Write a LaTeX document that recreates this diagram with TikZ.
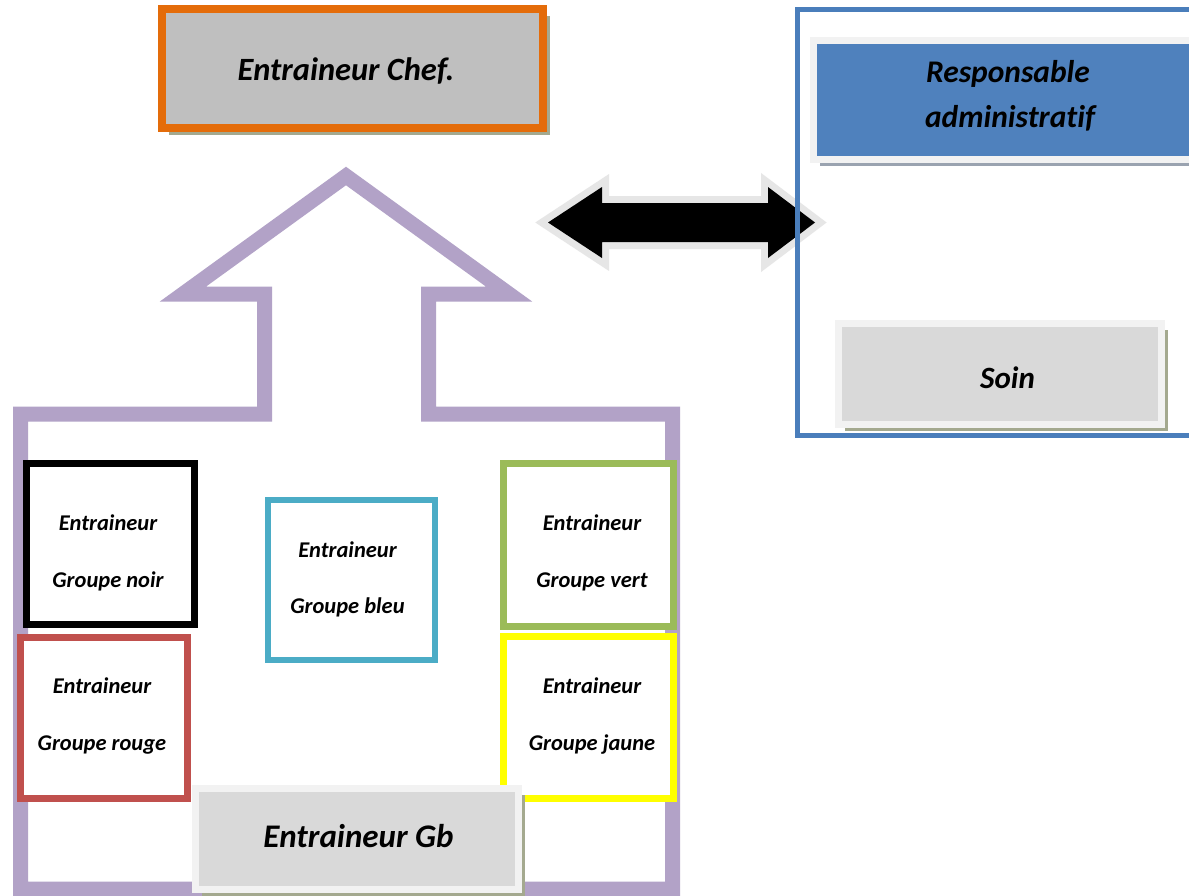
\documentclass[tikz,border=0pt]{standalone}
\usepackage{fontspec}
\setmainfont{Carlito}[Ligatures={NoCommon,NoContextual}]
\usetikzlibrary{shadows}
\definecolor{purp}{HTML}{B2A2C7}
\definecolor{orng}{HTML}{E46C0A}
\definecolor{chefgray}{HTML}{BFBFBF}
\definecolor{lgray}{HTML}{D9D9D9}
\definecolor{rim}{HTML}{F2F2F2}
\definecolor{arrrim}{HTML}{E6E6E6}
\definecolor{admblue}{HTML}{4F81BD}
\definecolor{frameblue}{HTML}{4A7EBB}
\definecolor{gbleu}{HTML}{4BACC6}
\definecolor{gvert}{HTML}{9BBB59}
\definecolor{grouge}{HTML}{C0504D}
\definecolor{gjaune}{HTML}{FFFF00}
\definecolor{shad}{HTML}{A4A98F}
\definecolor{shadb}{HTML}{9AA3B0}
\begin{document}
\begin{tikzpicture}[x=1pt,y=-1pt,
  grpbox/.style={rectangle, draw=#1, fill=white, line width=7pt, inner sep=0pt},
  grptxt/.style={anchor=base, inner sep=0pt, font=\bfseries\itshape\fontsize{22.5}{26}\selectfont},
  bigtxt/.style={anchor=base, inner sep=0pt, font=\bfseries\itshape\fontsize{#1}{#1}\selectfont},
  rimbox/.style={rectangle, draw=rim, line width=7pt, inner sep=0pt,
    drop shadow={shadow xshift=6.5pt, shadow yshift=-6.5pt, fill=#1, opacity=1}},
  housestyle/.style={draw=purp, line width=15pt, line join=miter},
]
\useasboundingbox (0,0) rectangle (1189,895);
\clip (0,0) rectangle (1189,895);
\fill[white] (0,0) rectangle (1189,895);

% purple up-arrow house
\draw[housestyle] (20.5,414) -- (264.5,414) -- (264.5,294) -- (183,294) -- (346,176)
  -- (509,294) -- (428.5,294) -- (428.5,414) -- (672.5,414) -- (672.5,889)
  -- (20.5,889) -- cycle;

% double arrow
\draw[draw=arrrim, line width=14pt, line join=miter]
  (548,222.5) -- (602,187) -- (602,203) -- (768,203) -- (768,187) -- (815,222.5)
  -- (768,258) -- (768,242) -- (602,242) -- (602,258) -- cycle;
\fill[black]
  (548,222.5) -- (602,187) -- (602,203) -- (768,203) -- (768,187) -- (815,222.5)
  -- (768,258) -- (768,242) -- (602,242) -- (602,258) -- cycle;

% admin frame
\node[rectangle, draw=frameblue, line width=5pt, inner sep=0pt,
  minimum width=402.5pt, minimum height=426.5pt] (admin) at (998.75,222.25) {};
\node[rimbox=shadb, fill=admblue, minimum width=381.5pt, minimum height=119pt]
  (resp) at (1004.25,100) {};
\node[rimbox=shad, fill=lgray, minimum width=323pt, minimum height=101pt]
  (soin) at (1000,374) {};

% chef
\node[rectangle, draw=orng, fill=chefgray, line width=8pt, inner sep=0pt,
  minimum width=381pt, minimum height=119pt,
  drop shadow={shadow xshift=7pt, shadow yshift=-7pt, fill=shad, opacity=1}]
  (chef) at (352.5,68.5) {};

% group boxes
\node[grpbox=black, minimum width=168pt, minimum height=161pt] (noir) at (110.5,544) {};
\node[grpbox=gbleu, line width=6pt, minimum width=167pt, minimum height=160pt] (bleu) at (351.5,580) {};
\node[grpbox=gvert, minimum width=170pt, minimum height=163pt] (vert) at (588.5,545) {};
\node[grpbox=grouge, minimum width=167pt, minimum height=161pt] (rouge) at (104,718) {};
\node[grpbox=gjaune, minimum width=170pt, minimum height=162pt] (jaune) at (588.5,717.5) {};

% Gb
\node[rimbox=shad, fill=lgray, minimum width=323pt, minimum height=101pt]
  (gb) at (357,839) {};

% texts
\node[bigtxt=32.5] (chefT) at (346,80) {Entraineur Chef.};
\node[bigtxt=31.5] (respT1) at (1008,82) {Responsable};
\node[bigtxt=31.5] (respT2) at (1010,127) {administratif};
\node[bigtxt=31] (soinT) at (1007.5,388) {Soin};
\node[bigtxt=33] (gbT) at (358.5,847) {Entraineur Gb};

\node[grptxt] (noirT1) at (108,530) {Entraineur};
\node[grptxt] (noirT2) at (108,587) {Groupe noir};
\node[grptxt] (bleuT1) at (347.5,557) {Entraineur};
\node[grptxt] (bleuT2) at (347.5,613) {Groupe bleu};
\node[grptxt] (vertT1) at (592,530) {Entraineur};
\node[grptxt] (vertT2) at (592,587) {Groupe vert};
\node[grptxt] (rougeT1) at (102,693) {Entraineur};
\node[grptxt] (rougeT2) at (102,750) {Groupe rouge};
\node[grptxt] (jauneT1) at (592,693) {Entraineur};
\node[grptxt] (jauneT2) at (592,750) {Groupe jaune};
\end{tikzpicture}
\end{document}
